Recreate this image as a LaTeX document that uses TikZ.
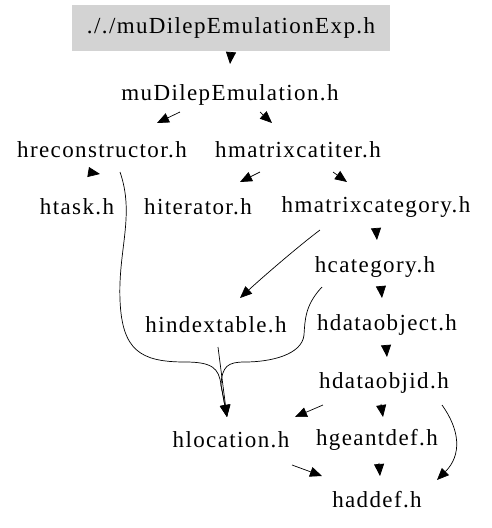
\documentclass[tikz,border=0pt]{standalone}
\usepackage{fontspec}
\usetikzlibrary{arrows.meta,calc,positioning}

\newfontfamily\hfont[LetterSpace=6]{Liberation Serif}
\definecolor{boxgray}{RGB}{211,211,211}

\tikzset{
  hfile/.style={inner sep=0pt, font=\fontsize{23}{27}\hfont},
  hroot/.style={hfile, fill=boxgray, minimum width=318pt, minimum height=46pt},
  dep/.style={line width=0.7pt, -{Triangle[length=12pt,width=10pt]}}
}

\begin{document}
\begin{tikzpicture}[x=1pt,y=-1pt]

\useasboundingbox (0,0) rectangle (492,528);

\node[hroot] (root) at (231, 28) {././muDilepEmulationExp.h};

\node[hfile] (mu) at (230, 95) {muDilepEmulation.h};

\node[hfile] (hrec) at (102, 150) {hreconstructor.h};
\node[hfile] (hmci) at (298, 150) {hmatrixcatiter.h};

\node[hfile] (htask) at (77, 207) {htask.h};
\node[hfile] (hiter) at (198, 207) {hiterator.h};
\node[hfile] (hmcat) at (376, 207) {hmatrixcategory.h};

\node[hfile] (hcat) at (375, 267) {hcategory.h};

\node[hfile] (hidx) at (216, 325) {hindextable.h};
\node[hfile] (hdo) at (387, 325) {hdataobject.h};

\node[hfile] (hdoid) at (384, 383) {hdataobjid.h};

\node[hfile] (hloc) at (231, 440) {hlocation.h};
\node[hfile] (hgeant) at (377, 440) {hgeantdef.h};

\node[hfile] (hadd) at (377, 500) {haddef.h};

% top part
\draw [dep] ($(root) + (0,24)$) to ($(mu) + (0,-31)$);
\draw [dep] ($(mu) + (-50,17)$) to ($(hrec) + (55,-27)$);
\draw [dep] ($(mu) + (30,17)$) to ($(hmci) + (-26,-27)$);
\draw [dep] ($(hrec) + (-14,22)$) to ($(htask) + (23,-33)$);
\draw [dep] ($(hmci) + (-38,22)$) to ($(hiter) + (42,-25)$);
\draw [dep] ($(hmci) + (35,22)$) to ($(hmcat) + (-29,-25)$);
\draw [dep] ($(hmcat) + (0,21)$) to ($(hcat) + (2,-27)$);
\draw [dep] ($(hmcat) + (-56,23)$) .. controls (300,245) and (265,275) .. ($(hidx) + (24,-27)$);
\draw [dep] ($(hcat) + (6,20)$) to ($(hdo) + (-5,-27)$);

% into hlocation
\draw [dep] ($(hrec) + (18,22)$) .. controls (135,215) and (118,250) .. (120,300)
  .. controls (122,350) and (140,362) .. (185,362)
  .. controls (212,362) and (219,368) .. (221,385) -- ($(hloc) + (-4,-23)$);
\draw [dep] ($(hidx) + (2,22)$) to ($(hloc) + (-4,-23)$);
\draw [dep] ($(hcat) + (-53,20)$) .. controls (305,305) and (305,320) .. (304,335)
  .. controls (302,355) and (270,362) .. (245,362)
  .. controls (228,362) and (222,366) .. (221,385) -- ($(hloc) + (-4,-23)$);

% bottom part
\draw [dep] ($(hdo) + (-1,20)$) to ($(hdoid) + (3,-26)$);
\draw [dep] ($(hdoid) + (-61,22)$) to ($(hloc) + (64,-23)$);
\draw [dep] ($(hdoid) + (-3,21)$) to ($(hgeant) + (6,-23)$);
\draw [dep] ($(hdoid) + (58,22)$) .. controls (460,430) and (462,455) .. ($(hadd) + (60,-20)$);
\draw [dep] ($(hloc) + (61,25)$) to ($(hadd) + (-55,-24)$);
\draw [dep] ($(hgeant) + (2,23)$) to ($(hadd) + (3,-24)$);

\end{tikzpicture}
\end{document}
